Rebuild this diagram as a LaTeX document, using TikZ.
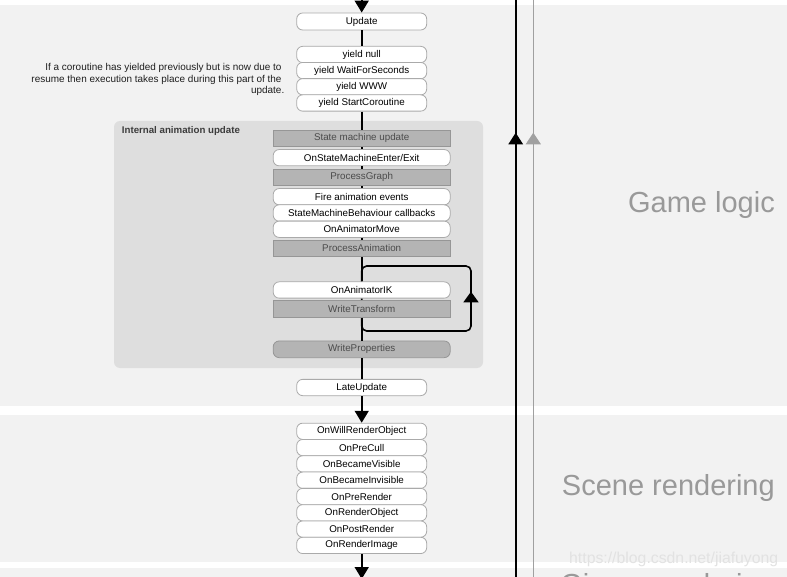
\documentclass[tikz,border=0pt]{standalone}
\usepackage{fontspec}
\setmainfont{Liberation Sans}
\usetikzlibrary{arrows.meta}
\definecolor{band}{RGB}{242,242,242}
\definecolor{animbg}{RGB}{222,222,222}
\definecolor{boxborder}{RGB}{170,170,170}
\definecolor{grayfill}{RGB}{180,180,180}
\definecolor{grayborder}{RGB}{150,150,150}
\definecolor{graytext}{RGB}{75,75,75}
\definecolor{labelgray}{RGB}{153,153,153}
\definecolor{linegray}{RGB}{160,160,160}
\definecolor{wmark}{RGB}{226,226,226}
\definecolor{notetext}{RGB}{30,30,30}
\begin{document}
\begin{tikzpicture}[x=1pt,y=-1pt,
  boxfont/.style={font=\fontsize{9.8}{11.2}\selectfont},
  evt/.style={boxfont, draw=boxborder, line width=0.8pt, fill=white, rounded corners=6pt, minimum width=130pt, minimum height=16.3pt, inner sep=0pt, text=black},
  ievt/.style={evt, minimum width=177pt},
  proc/.style={boxfont, draw=grayborder, line width=0.8pt, fill=grayfill, minimum width=177pt, minimum height=16.7pt, inner sep=0pt, text=graytext},
  rproc/.style={proc, rounded corners=6pt},
  flow/.style={line width=1.6pt, draw=black},
  flowarrow/.style={flow, -{Triangle[width=14pt,length=12pt]}},
  section/.style={font=\fontsize{29}{34}\selectfont, text=labelgray, inner sep=0pt, anchor=base east},
  timeline/.style={line width=1.6pt, draw=black},
  gtimeline/.style={line width=1.3pt, draw=linegray},
]
\useasboundingbox (0,0) rectangle (787,577);
% bands
\fill[band] (0,5) rectangle (787,406);
\fill[band] (0,415) rectangle (787,562);
\fill[band] (0,568) rectangle (787,610);
% internal animation update box
\fill[animbg, rounded corners=6pt] (114,121) rectangle (483,368);
\node[anchor=base west, inner sep=0pt, font=\fontsize{9.7}{11}\selectfont\bfseries, text={rgb,255:red,60;green,60;blue,60}] (animtitle) at (121.7,134) {Internal animation update};
% section labels
\node[section] (gamelogic) at (775,212.3) {Game logic};
\node[section] (scenerend) at (775,495) {Scene rendering};
\node[section] (gizmorend) at (775,594) {Gizmo rendering};
% timelines on the right
\coordinate (btop) at (515.7,-2);
\coordinate (bbot) at (515.7,580);
\coordinate (bmid) at (515.7,132.7);
\coordinate (bmidlow) at (515.7,150);
\coordinate (gtop) at (533.3,-2);
\coordinate (gbot) at (533.3,580);
\coordinate (gmid) at (533.3,132.7);
\coordinate (gmidlow) at (533.3,150);
\draw[timeline] (btop) -- (bbot);
\draw[timeline, -{Triangle[width=14.4pt,length=11.6pt]}] (bmidlow) -- (bmid);
\draw[gtimeline] (gtop) -- (gbot);
\draw[gtimeline, draw=linegray, -{Triangle[width=15pt,length=11.6pt]}] (gmidlow) -- (gmid);
% transform loop
\coordinate (loopnw) at (361.7,266);
\coordinate (loopse) at (471,331);
\coordinate (looparrowfrom) at (471,312);
\coordinate (looparrowto) at (471,291.7);
\draw[flow, rounded corners=5pt] (loopnw) rectangle (loopse);
\draw[flow, -{Triangle[width=15pt,length=10.6pt]}] (looparrowfrom) -- (looparrowto);
% note
\node[anchor=east, inner sep=0pt, align=right, text=notetext, font=\fontsize{9.95}{11.2}\selectfont] (note) at (284.5,79.5)
  {If a coroutine has yielded previously but is now due to\kern2.8pt\\resume then execution takes place during this part of the\kern2.8pt\\update.};
% game logic nodes
\node[evt, minimum height=17pt] (update) at (361.7,21.5) {Update};
\node[evt] (ynull) at (361.7,54.5) {yield null};
\node[evt] (ywfs) at (361.7,70.6) {yield WaitForSeconds};
\node[evt] (ywww) at (361.7,86.8) {yield WWW};
\node[evt] (ysc) at (361.7,103) {yield StartCoroutine};
\node[proc] (smu) at (361.7,138.3) {State machine update};
\node[ievt] (osmee) at (361.7,157.7) {OnStateMachineEnter/Exit};
\node[proc] (pg) at (361.7,177.3) {ProcessGraph};
\node[ievt] (fae) at (361.7,196.7) {Fire animation events};
\node[ievt] (smb) at (361.7,213) {StateMachineBehaviour callbacks};
\node[ievt] (oam) at (361.7,229.3) {OnAnimatorMove};
\node[proc] (pa) at (361.7,248.3) {ProcessAnimation};
\node[ievt] (oaik) at (361.7,290) {OnAnimatorIK};
\node[proc] (wt) at (361.7,309) {WriteTransform};
\node[rproc] (wp) at (361.7,349.3) {WriteProperties};
\node[evt] (late) at (361.7,387.5) {LateUpdate};
% scene rendering nodes
\node[evt] (owro) at (361.7,431.3) {OnWillRenderObject};
\node[evt] (opc) at (361.7,447.6) {OnPreCull};
\node[evt] (obv) at (361.7,463.9) {OnBecameVisible};
\node[evt] (obi) at (361.7,480.2) {OnBecameInvisible};
\node[evt] (opr) at (361.7,496.5) {OnPreRender};
\node[evt] (oro) at (361.7,512.8) {OnRenderObject};
\node[evt] (opo) at (361.7,529.1) {OnPostRender};
\node[evt] (ori) at (361.7,545.4) {OnRenderImage};
% flow connectors
\coordinate (topin) at (361.7,-3);
\coordinate (botout) at (361.7,579);
\draw[flowarrow] (topin) -- (update.north);
\draw[flow] (update.south) -- (ynull.north);
\draw[flow] (ysc.south) -- (smu.north);
\draw[flow] (smu.south) -- (osmee.north);
\draw[flow] (osmee.south) -- (pg.north);
\draw[flow] (pg.south) -- (fae.north);
\draw[flow] (oam.south) -- (pa.north);
\draw[flow] (pa.south) -- (oaik.north);
\draw[flow] (wt.south) -- (wp.north);
\draw[flow] (wp.south) -- (late.north);
\draw[flowarrow] (late.south) -- (owro.north);
\draw[flowarrow] (ori.south) -- (botout);
% watermark
\node[anchor=base west, inner sep=0pt, text=wmark, font=\fontsize{15.8}{18}\selectfont] (watermark) at (569,563.3) {https://blog.csdn.net/jiafuyong};
\end{tikzpicture}
\end{document}
